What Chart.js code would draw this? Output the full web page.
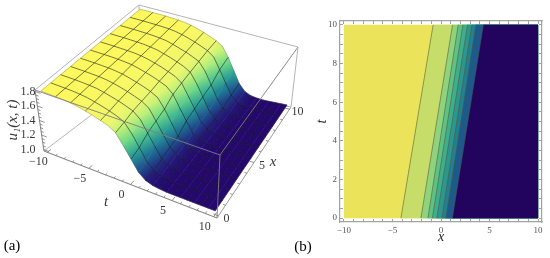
<!DOCTYPE html>
<html>
<head>
<meta charset="utf-8">
<title>u1(x,t) surface and contour</title>
<script src="https://cdn.jsdelivr.net/npm/chart.js@4"></script>
<style>
  html, body { margin: 0; padding: 0; background: #fff; }
  #wrap { position: relative; width: 550px; height: 258px; overflow: hidden; }
  canvas { position: absolute; top: 0; }
  #surface { left: 0; }
  #contour { left: 290px; }
</style>
</head>
<body>
<div id="wrap">
  <canvas id="surface" width="315" height="258"></canvas>
  <canvas id="contour" width="260" height="258"></canvas>
</div>
<script>
// ---- data for panel (a) ----
var tValues = [-10, -9.167, -8.333, -7.5, -6.667, -5.833, -5, -4.167, -3.333, -2.5, -1.667, -0.833, 0, 0.833, 1.667, 2.5, 3.333, 4.167, 5, 5.833, 6.667, 7.5, 8.333, 9.167, 10];
var xValues = [0, 1, 2, 3, 4, 5, 6, 7, 8, 9, 10];
// one row per x, one column per t
var uRows = [
  [1.799, 1.797, 1.794, 1.790, 1.780, 1.763, 1.740, 1.714, 1.682, 1.648, 1.586, 1.446, 1.300, 1.156, 1.082, 1.050, 1.038, 1.030, 1.030, 1.030, 1.030, 1.030, 1.030, 1.030, 1.030],
  [1.800, 1.798, 1.795, 1.791, 1.782, 1.769, 1.746, 1.720, 1.691, 1.657, 1.608, 1.485, 1.335, 1.183, 1.095, 1.056, 1.041, 1.032, 1.030, 1.030, 1.030, 1.030, 1.030, 1.030, 1.030],
  [1.800, 1.799, 1.797, 1.793, 1.787, 1.778, 1.757, 1.733, 1.707, 1.674, 1.638, 1.558, 1.407, 1.262, 1.130, 1.070, 1.047, 1.036, 1.030, 1.030, 1.030, 1.030, 1.030, 1.030, 1.030],
  [1.800, 1.799, 1.797, 1.794, 1.790, 1.780, 1.763, 1.740, 1.714, 1.682, 1.648, 1.586, 1.446, 1.300, 1.156, 1.082, 1.050, 1.038, 1.030, 1.030, 1.030, 1.030, 1.030, 1.030, 1.030],
  [1.800, 1.800, 1.798, 1.795, 1.791, 1.782, 1.769, 1.746, 1.720, 1.691, 1.657, 1.608, 1.485, 1.335, 1.183, 1.095, 1.056, 1.041, 1.032, 1.030, 1.030, 1.030, 1.030, 1.030, 1.030],
  [1.800, 1.800, 1.799, 1.797, 1.793, 1.787, 1.778, 1.757, 1.733, 1.707, 1.674, 1.638, 1.558, 1.407, 1.262, 1.130, 1.070, 1.047, 1.036, 1.030, 1.030, 1.030, 1.030, 1.030, 1.030],
  [1.800, 1.800, 1.799, 1.797, 1.794, 1.790, 1.780, 1.763, 1.740, 1.714, 1.682, 1.648, 1.586, 1.446, 1.300, 1.156, 1.082, 1.050, 1.038, 1.030, 1.030, 1.030, 1.030, 1.030, 1.030],
  [1.800, 1.800, 1.800, 1.798, 1.795, 1.791, 1.782, 1.769, 1.746, 1.720, 1.691, 1.657, 1.608, 1.485, 1.335, 1.183, 1.095, 1.056, 1.041, 1.032, 1.030, 1.030, 1.030, 1.030, 1.030],
  [1.800, 1.800, 1.800, 1.798, 1.796, 1.792, 1.785, 1.775, 1.752, 1.726, 1.700, 1.666, 1.628, 1.525, 1.370, 1.216, 1.110, 1.062, 1.044, 1.034, 1.030, 1.030, 1.030, 1.030, 1.030],
  [1.800, 1.800, 1.800, 1.799, 1.797, 1.794, 1.790, 1.780, 1.763, 1.740, 1.714, 1.682, 1.648, 1.586, 1.446, 1.300, 1.156, 1.082, 1.050, 1.038, 1.030, 1.030, 1.030, 1.030, 1.030],
  [1.800, 1.800, 1.800, 1.800, 1.798, 1.795, 1.791, 1.782, 1.769, 1.746, 1.720, 1.691, 1.657, 1.608, 1.485, 1.335, 1.183, 1.095, 1.056, 1.041, 1.032, 1.030, 1.030, 1.030, 1.030]
];
var tTickLabels = [-10, -5, 0, 5, 10];
var xTickLabels = [0, 5, 10];
var uTickLabels = [1.0, 1.2, 1.4, 1.6, 1.8];

// ---- data for panel (b): the contour lines run straight from t = 0 to t = 10 ----
var contourAtT0 = [-4.13, -2.07, -1.35, -0.89, -0.43, 0.09, 0.5, 1.17];
var contourAtT10 = [-0.81, 1.19, 1.77, 2.25, 2.73, 3.17, 3.59, 4.36];
var bandColors = ['#ebe35a', '#c6dd69', '#8fd37c', '#5fc285', '#3fae8b', '#2d978f', '#22808f', '#1d5a8b', '#22045f'];
var contourXTicks = [-10, -5, 0, 5, 10];
var contourTTicks = [0, 2, 4, 6, 8, 10];

// ---- view of the 3D box: the 8 corners as they sit on the page ----
var boxT = [-10.4, 10.4], boxX = [-0.2, 10.2], boxU = [0.98, 1.82];
var floorCorners = [[44, 151], [217, 218], [291, 107], [140, 78]];
var topCorners = [[35, 90], [220, 155], [298, 47], [139, 5]];
// mesh is drawn on every 2nd t column
var meshEveryT = 2;
// colour ramp of the surface
var rampU = [1.03, 1.08, 1.15, 1.25, 1.35, 1.45, 1.55, 1.65, 1.8];
var rampRgb = [[36, 8, 108], [36, 26, 120], [30, 72, 140], [28, 125, 150], [50, 175, 150], [105, 215, 135], [172, 238, 125], [236, 247, 110], [253, 248, 92]];

function project(t, x, u) {
  var a = (t - boxT[0]) / (boxT[1] - boxT[0]);
  var b = (x - boxX[0]) / (boxX[1] - boxX[0]);
  var c = (u - boxU[0]) / (boxU[1] - boxU[0]);
  function corner(p) {
    return [0, 1].map(function (i) {
      var front = p[0][i] + (p[1][i] - p[0][i]) * a;
      var back = p[3][i] + (p[2][i] - p[3][i]) * a;
      return front + (back - front) * b;
    });
  }
  var lo = corner(floorCorners), hi = corner(topCorners);
  return { x: lo[0] + (hi[0] - lo[0]) * c, y: lo[1] + (hi[1] - lo[1]) * c };
}

function colorFor(u) {
  var i = 0;
  while (i < rampU.length - 2 && u > rampU[i + 1]) i++;
  var f = Math.max(0, Math.min(1, (u - rampU[i]) / (rampU[i + 1] - rampU[i])));
  var c = [0, 1, 2].map(function (n) {
    return Math.round(rampRgb[i][n] + (rampRgb[i + 1][n] - rampRgb[i][n]) * f);
  });
  return 'rgb(' + c.join(',') + ')';
}

// draw order is back to front, Chart.js wants the top dataset first so it gets reversed later
var surfaceSets = [];

function addLine(points, color, width) {
  surfaceSets.push({ data: points, borderColor: color, borderWidth: width, pointRadius: 0, fill: false, tension: 0, clip: false });
}

function addCell(j, k) {
  var t0 = tValues[j], t1 = tValues[j + 1], x0 = xValues[k], x1 = xValues[k + 1];
  var a = project(t0, x0, uRows[k][j]);
  var b = project(t1, x0, uRows[k][j + 1]);
  var c = project(t1, x1, uRows[k + 1][j + 1]);
  var d = project(t0, x1, uRows[k + 1][j]);
  var from = colorFor((uRows[k][j] + uRows[k + 1][j]) / 2);
  var to = colorFor((uRows[k][j + 1] + uRows[k + 1][j + 1]) / 2);
  var paint = function (ctx) {
    var sx = ctx.chart.scales.x, sy = ctx.chart.scales.y;
    // scales have no size yet on the first pass through the options
    var gx0 = sx ? sx.getPixelForValue((a.x + d.x) / 2) : NaN;
    var gy0 = sy ? sy.getPixelForValue((a.y + d.y) / 2) : NaN;
    var gx1 = sx ? sx.getPixelForValue((b.x + c.x) / 2) : NaN;
    var gy1 = sy ? sy.getPixelForValue((b.y + c.y) / 2) : NaN;
    if (!isFinite(gx0) || !isFinite(gy0) || !isFinite(gx1) || !isFinite(gy1)) return from;
    var g = ctx.chart.ctx.createLinearGradient(gx0, gy0, gx1, gy1);
    g.addColorStop(0, from);
    g.addColorStop(1, to);
    return g;
  };
  surfaceSets.push({ data: [a, b, c, d, a], backgroundColor: paint, borderColor: paint, borderWidth: 0.6, pointRadius: 0, fill: 'shape', tension: 0, clip: false });
}

function boxEdge(p, q, color, width) {
  function at(c) {
    return project(boxT[c[0]], boxX[c[1]], boxU[c[2]]);
  }
  addLine([at(p), at(q)], color, width);
}

// back edges of the box go behind the surface
var backEdge = '#b4b4b4';
boxEdge([0, 0, 0], [0, 1, 0], backEdge, 1);
boxEdge([0, 1, 0], [1, 1, 0], backEdge, 1);
boxEdge([0, 1, 0], [0, 1, 1], backEdge, 1);
boxEdge([0, 0, 1], [0, 1, 1], backEdge, 1);
boxEdge([0, 1, 1], [1, 1, 1], backEdge, 1);

// surface cells, far corner first
for (var j = 0; j < tValues.length - 1; j++) {
  for (var k = xValues.length - 2; k >= 0; k--) addCell(j, k);
}

// mesh
var meshColor = 'rgba(18,24,28,0.72)', rimColor = 'rgba(60,60,60,0.35)';
xValues.forEach(function (x, k) {
  var pts = tValues.map(function (t, j) { return project(t, x, uRows[k][j]); });
  addLine(pts, (k === 0 || k === xValues.length - 1) ? rimColor : meshColor, 0.8);
});
tValues.forEach(function (t, j) {
  if (j % meshEveryT !== 0) return;
  var pts = xValues.map(function (x, k) { return project(t, x, uRows[k][j]); });
  addLine(pts, (j === 0 || j === tValues.length - 1) ? rimColor : meshColor, 0.8);
});

// front edges of the box
var frontEdge = 'rgba(125,125,125,0.9)';
boxEdge([0, 0, 1], [1, 0, 1], frontEdge, 1);
boxEdge([1, 0, 1], [1, 1, 1], frontEdge, 1);
boxEdge([1, 0, 0], [1, 0, 1], frontEdge, 1);
boxEdge([1, 0, 0], [1, 1, 0], '#9a9a9a', 1);
boxEdge([1, 1, 0], [1, 1, 1], '#b4b4b4', 1);
boxEdge([0, 0, 0], [1, 0, 0], '#8a8a8a', 1.1);
boxEdge([0, 0, 0], [0, 0, 1], '#8a8a8a', 1.1);

// tick marks on the three labelled edges
var i, v;
for (i = 0; i <= 20; i++) {
  v = -10 + i;
  var lenT = tTickLabels.indexOf(v) >= 0 ? 0.4 : 0.2;
  addLine([project(v, boxX[0], boxU[0]), project(v, boxX[0] + lenT, boxU[0])], '#777', 0.8);
}
for (i = 0; i <= 10; i++) {
  var lenX = xTickLabels.indexOf(i) >= 0 ? 0.6 : 0.3;
  addLine([project(boxT[1], i, boxU[0]), project(boxT[1] - lenX, i, boxU[0])], '#777', 0.8);
}
for (i = 0; i <= 16; i++) {
  v = 1 + i * 0.05;
  var lenU = i % 4 === 0 ? 0.6 : 0.3;
  addLine([project(boxT[0], boxX[0], v), project(boxT[0] + lenU, boxX[0], v)], '#777', 0.8);
}

function minus(v) {
  return String(v).replace('-', '\u2212');
}

var surfaceText = {
  id: 'surfaceText',
  afterDatasetsDraw: function (chart) {
    var c = chart.ctx, sx = chart.scales.x, sy = chart.scales.y;
    function put(txt, x, y, font) {
      c.font = font;
      c.fillText(txt, x, y);
    }
    c.save();
    c.fillStyle = '#3a3a3a';
    c.textAlign = 'center';
    c.textBaseline = 'middle';
    var tickFont = '12px "Liberation Serif"';
    uTickLabels.forEach(function (u) {
      put(u.toFixed(1), 28, sy.getPixelForValue(project(boxT[0], boxX[0], u).y), tickFont);
    });
    tTickLabels.forEach(function (t) {
      var p = project(t, boxX[0], boxU[0]);
      put(minus(t), sx.getPixelForValue(p.x) - 9, sy.getPixelForValue(p.y) + 10, tickFont);
    });
    xTickLabels.forEach(function (x) {
      var p = project(boxT[1], x, boxU[0]);
      put(String(x), sx.getPixelForValue(p.x) + 8, sy.getPixelForValue(p.y) + 3, tickFont);
    });
    put('t', 106, 202, 'italic 15px "Liberation Serif"');
    put('x', 273, 162, 'italic 15px "Liberation Serif"');
    c.save();
    c.translate(13, 120);
    c.rotate(-Math.PI / 2);
    put('u\u2081(x, t)', 0, 0, 'italic 15px "Liberation Serif"');
    c.restore();
    c.fillStyle = '#000';
    put('(a)', 12, 246, '15px "Liberation Serif"');
    c.restore();
  }
};

new Chart(document.getElementById('surface'), {
  type: 'line',
  data: { datasets: surfaceSets.slice().reverse() },
  options: {
    responsive: false,
    animation: false,
    layout: { padding: 0 },
    plugins: { legend: { display: false }, tooltip: { enabled: false } },
    scales: {
      x: { type: 'linear', display: false, min: 0, max: 315 },
      y: { type: 'linear', display: false, min: 0, max: 258, reverse: true }
    }
  },
  plugins: [surfaceText]
});

// ---- panel (b) ----
var contourSets = [];
var xEnd = contourXTicks[contourXTicks.length - 1], xStart = contourXTicks[0];
var tEnd = contourTTicks[contourTTicks.length - 1], tStart = contourTTicks[0];
bandColors.forEach(function (color, n) {
  var left0 = n === 0 ? xStart : contourAtT0[n - 1];
  var left1 = n === 0 ? xStart : contourAtT10[n - 1];
  contourSets.push({
    data: [{ x: left0, y: tStart }, { x: left1, y: tEnd }, { x: xEnd, y: tEnd }, { x: xEnd, y: tStart }, { x: left0, y: tStart }],
    backgroundColor: color, borderWidth: 0, pointRadius: 0, fill: 'shape', tension: 0, clip: false
  });
});
contourAtT0.forEach(function (x0, n) {
  contourSets.push({
    data: [{ x: x0, y: tStart }, { x: contourAtT10[n], y: tEnd }],
    borderColor: 'rgba(80,85,60,0.55)', borderWidth: 1, pointRadius: 0, fill: false, tension: 0, clip: false
  });
});

function frameAxis(position, min, max, step, majors, size, showLabels) {
  return {
    type: 'linear',
    position: position,
    min: min,
    max: max,
    border: { display: true, color: '#a2a2a2', width: 1.2 },
    grid: { drawOnChartArea: false, drawTicks: true, tickLength: -3, color: '#8a8a8a', lineWidth: 0.8 },
    title: { display: false },
    ticks: {
      display: showLabels,
      autoSkip: false,
      maxRotation: 0,
      padding: 6,
      color: '#555',
      font: { family: 'Liberation Serif', size: 9 },
      callback: function (v) { return majors.indexOf(v) >= 0 ? minus(v) : ''; }
    },
    afterBuildTicks: function (scale) {
      var list = [];
      for (var q = majors[0]; q <= majors[majors.length - 1] + 1e-9; q += step) list.push({ value: q });
      scale.ticks = list;
    },
    afterFit: function (scale) {
      if (scale.isHorizontal()) scale.height = size;
      else scale.width = size;
    }
  };
}

var contourScales = {
  x: frameAxis('bottom', -10.4, 10.4, 1, contourXTicks, 36, true),
  y: frameAxis('left', -0.2, 10.2, 0.5, contourTTicks, 50, true),
  xTop: frameAxis('top', -10.4, 10.4, 1, contourXTicks, 0, false),
  yRight: frameAxis('right', -0.2, 10.2, 0.5, contourTTicks, 0, false)
};
contourScales.x.title = { display: true, text: 'x', color: '#222', font: { family: 'Liberation Serif', size: 14, style: 'italic' }, padding: { top: 0, bottom: 12 } };
contourScales.y.title = { display: true, text: 't', color: '#222', font: { family: 'Liberation Serif', size: 14, style: 'italic' }, padding: { top: 24, bottom: 0 } };

var contourText = {
  id: 'contourText',
  afterDatasetsDraw: function (chart) {
    var c = chart.ctx;
    c.save();
    c.fillStyle = '#000';
    c.textAlign = 'center';
    c.textBaseline = 'middle';
    c.font = '15px "Liberation Serif"';
    c.fillText('(b)', 13, 247);
    c.restore();
  }
};

new Chart(document.getElementById('contour'), {
  type: 'line',
  data: { datasets: contourSets.slice().reverse() },
  options: {
    responsive: false,
    animation: false,
    layout: { padding: { top: 21, right: 8, left: 0, bottom: 0 } },
    plugins: { legend: { display: false }, tooltip: { enabled: false } },
    scales: contourScales
  },
  plugins: [contourText]
});
</script>
</body>
</html>
